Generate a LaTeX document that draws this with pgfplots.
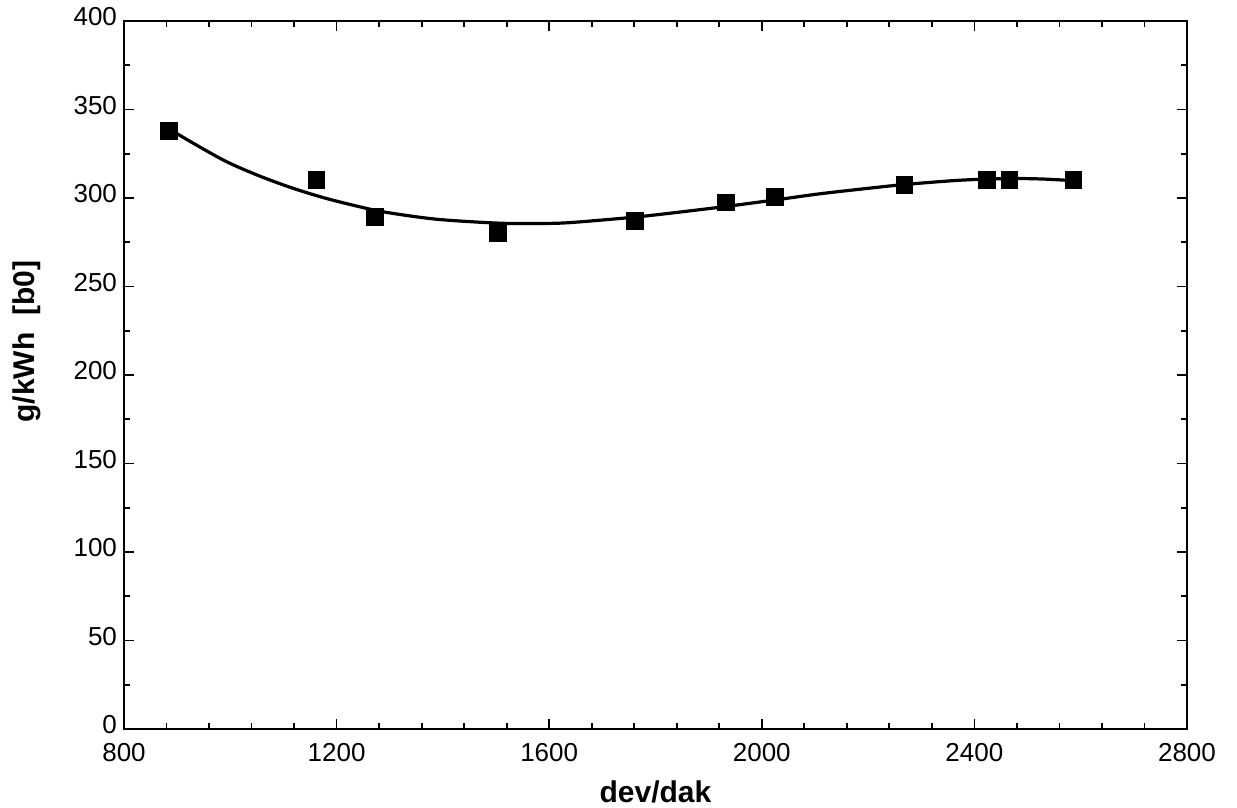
\documentclass[border=0pt]{standalone}
\usepackage{fontspec}
\setmainfont{Liberation Sans}
\usepackage{pgfplots}
\pgfplotsset{compat=1.18}
\begin{document}
\begin{tikzpicture}
\begin{axis}[
  scale only axis, width=531.5pt, height=354pt,
  xmin=800, xmax=2800, ymin=0, ymax=400,
  xtick={800,1200,...,2800}, ytick={0,50,...,400},
  minor x tick num=4, minor y tick num=1,
  tick align=inside, major tick length=5pt, minor tick length=3.2pt,
  axis line style={line width=1.2pt},
  every tick/.style={black, line width=0.9pt},
  tick label style={font=\fontsize{13}{15}\selectfont},
  xticklabel style={yshift=-3.5pt},
  yticklabel style={yshift=2pt},
  /pgf/number format/assume math mode=true,
  /pgf/number format/1000 sep={},
  xlabel={dev/dak}, ylabel={g/kWh\ \ [b0]},
  label style={font=\fontsize{15}{18}\selectfont\bfseries},
  xlabel style={at={(axis description cs:0.5,-0.089)}, anchor=center},
  ylabel style={at={(axis description cs:-0.0913,0.547)}, anchor=center},
]
\addplot[smooth, line width=1.6pt, black] table {
x y
885 339
930 331
993 320.5
1056 312.3
1118 305.5
1180 299.8
1244 295
1291 292
1388 288
1504 285.8
1580 285.6
1639 286.1
1761 289.2
1850 292.2
1932 295.2
2025 298.9
2110 302.4
2204 305.6
2268 307.6
2360 309.8
2424 310.7
2480 311.0
2530 310.7
2586 309.8
};
\addplot[only marks, mark=square*, mark size=4.15pt, black] table {
x y
885 338
1162 310.3
1272 289.4
1504 280.2
1761 287.2
1932 297.4
2025 300.6
2268 307.4
2424 310.2
2466 310.2
2586 310.2
};
\coordinate (bl) at (rel axis cs:0,0);
\coordinate (tr) at (rel axis cs:1,1);
\end{axis}
\pgfresetboundingbox
\path ([shift={(-62pt,-39.5pt)}]bl) rectangle ([shift={(25pt,10.5pt)}]tr);
\end{tikzpicture}
\end{document}
